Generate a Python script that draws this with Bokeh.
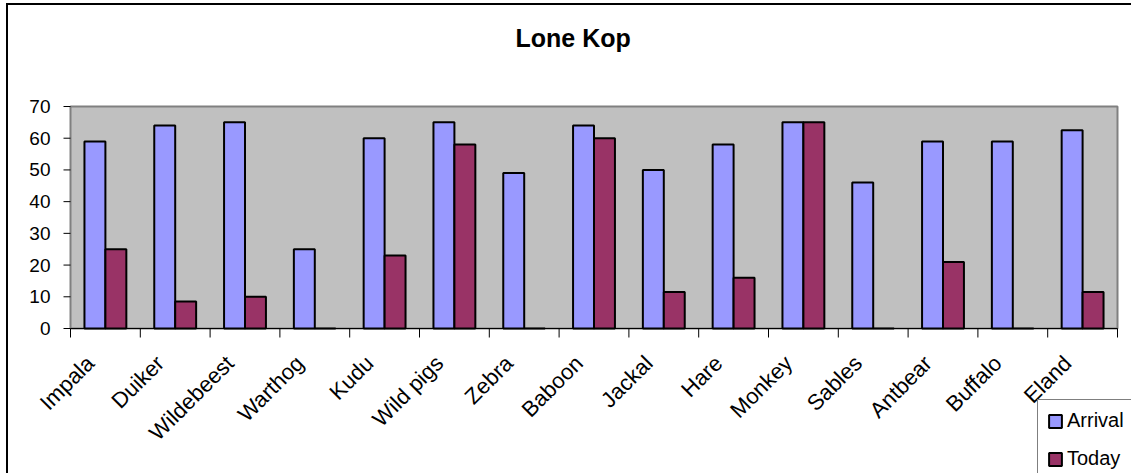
import numpy as np
from bokeh.plotting import figure
from bokeh.models import ColumnDataSource, Range1d, Legend, LegendItem
from bokeh.core.properties import value
from bokeh.transform import dodge
from bokeh.embed import file_html
from bokeh.resources import INLINE

animals = ["Impala", "Duiker", "Wildebeest", "Warthog", "Kudu", "Wild pigs", "Zebra",
           "Baboon", "Jackal", "Hare", "Monkey", "Sables", "Antbear", "Buffalo", "Eland"]
arrival = [59, 64, 65, 25, 60, 65, 49, 64, 50, 58, 65, 46, 59, 59, 62.5]
today = [25, 8.5, 10, 0, 23, 58, 0, 60, 11.5, 16, 65, 0, 21, 0, 11.5]
y_ticks = [0, 10, 20, 30, 40, 50, 60, 70]
series_names = ["Arrival", "Today"]
chart_title = "Lone Kop"

n = len(animals)
centers = (np.arange(n) + 0.5).tolist()
edges = np.arange(n + 1).tolist()
ymax = y_ticks[-1]

src = ColumnDataSource(dict(x=centers, y0=[0] * n, arrival=arrival, today=today, name=animals))
edge_src = ColumnDataSource(dict(x=edges, y=[0] * (n + 1)))
ytick_src = ColumnDataSource(dict(x=[0] * len(y_ticks), y=y_ticks,
                                  label=[str(t) for t in y_ticks]))

FONT = "Liberation Sans"

# layout in pixels (canvas = whole drawing surface, used as one frame)
CANVAS_W, CANVAS_H = 1123, 468
AREA_L, AREA_T, AREA_W, AREA_H = 62, 101, 1047, 222
px_x = n / AREA_W          # data units per pixel
px_y = ymax / AREA_H
x_start = -AREA_L * px_x
x_end = n + (CANVAS_W - AREA_L - AREA_W) * px_x
y_end = ymax + AREA_T * px_y
y_start = -(CANVAS_H - AREA_T - AREA_H) * px_y

p = figure(frame_width=CANVAS_W, frame_height=CANVAS_H,
           min_border=0, min_border_left=0, min_border_right=0,
           min_border_top=0, min_border_bottom=0,
           x_range=Range1d(x_start, x_end), y_range=Range1d(y_start, y_end),
           output_backend="svg", toolbar_location=None,
           x_axis_type=None, y_axis_type=None)
p.styles = {"border-left": "2px solid #000000", "border-top": "2px solid #000000",
            "margin-left": "6px", "margin-top": "3px"}

p.background_fill_color = "#FFFFFF"
p.border_fill_color = "#FFFFFF"
p.outline_line_color = None
p.xgrid.visible = False
p.ygrid.visible = False

# grey plot area
p.quad(left=[0], right=[n], bottom=[0], top=[ymax],
       fill_color="#C0C0C0", line_color="#808080", line_width=2)

r1 = p.vbar(x=dodge("x", -0.15, range=p.x_range), top="arrival", width=0.3, source=src,
            fill_color="#9999FF", line_color="#000000", line_width=2)
r2 = p.vbar(x=dodge("x", 0.15, range=p.x_range), top="today", width=0.3, source=src,
            fill_color="#993366", line_color="#000000", line_width=2)

# category axis: line, boundary ticks, rotated labels
p.segment(x0=[0], y0=[0], x1=[n], y1=[0], line_color="#000000", line_width=1)
p.ray(x="x", y="y", length=9, length_units="screen", angle=-np.pi / 2,
      source=edge_src, line_color="#000000", line_width=1)
p.text(x="x", y="y0", text="name", source=src, angle=np.pi / 4,
       text_align="right", text_baseline="middle", x_offset=-15, y_offset=31,
       text_font=value(FONT), text_font_size="22px", text_color="#000000")

# value axis: ticks and labels
p.ray(x="x", y="y", length=7, length_units="screen", angle=np.pi,
      source=ytick_src, line_color="#000000", line_width=1)
p.text(x="x", y="y", text="label", source=ytick_src,
       text_align="right", text_baseline="middle", x_offset=-20, y_offset=0,
       text_font=value(FONT), text_font_size="19px", text_color="#000000")

# title
p.text(x=[0], y=[ymax], text=[chart_title], text_align="left", text_baseline="middle",
       x_offset=445, y_offset=-69, text_font=value(FONT), text_font_size="25px",
       text_font_style="bold", text_color="#000000")

legend = Legend(items=[LegendItem(label=series_names[0], renderers=[r1]),
                       LegendItem(label=series_names[1], renderers=[r2])],
                location=(1029, -7), orientation="vertical",
                glyph_width=16, glyph_height=16, spacing=15, padding=9,
                label_standoff=4, label_height=16,
                label_text_font=FONT, label_text_font_size="20px",
                label_text_line_height=1.0,
                label_text_color="#000000", border_line_color="#000000",
                border_line_width=1, background_fill_color="#FFFFFF",
                background_fill_alpha=1.0, margin=0)
p.add_layout(legend, "center")

open("out.html", "w").write(file_html(p, INLINE))
